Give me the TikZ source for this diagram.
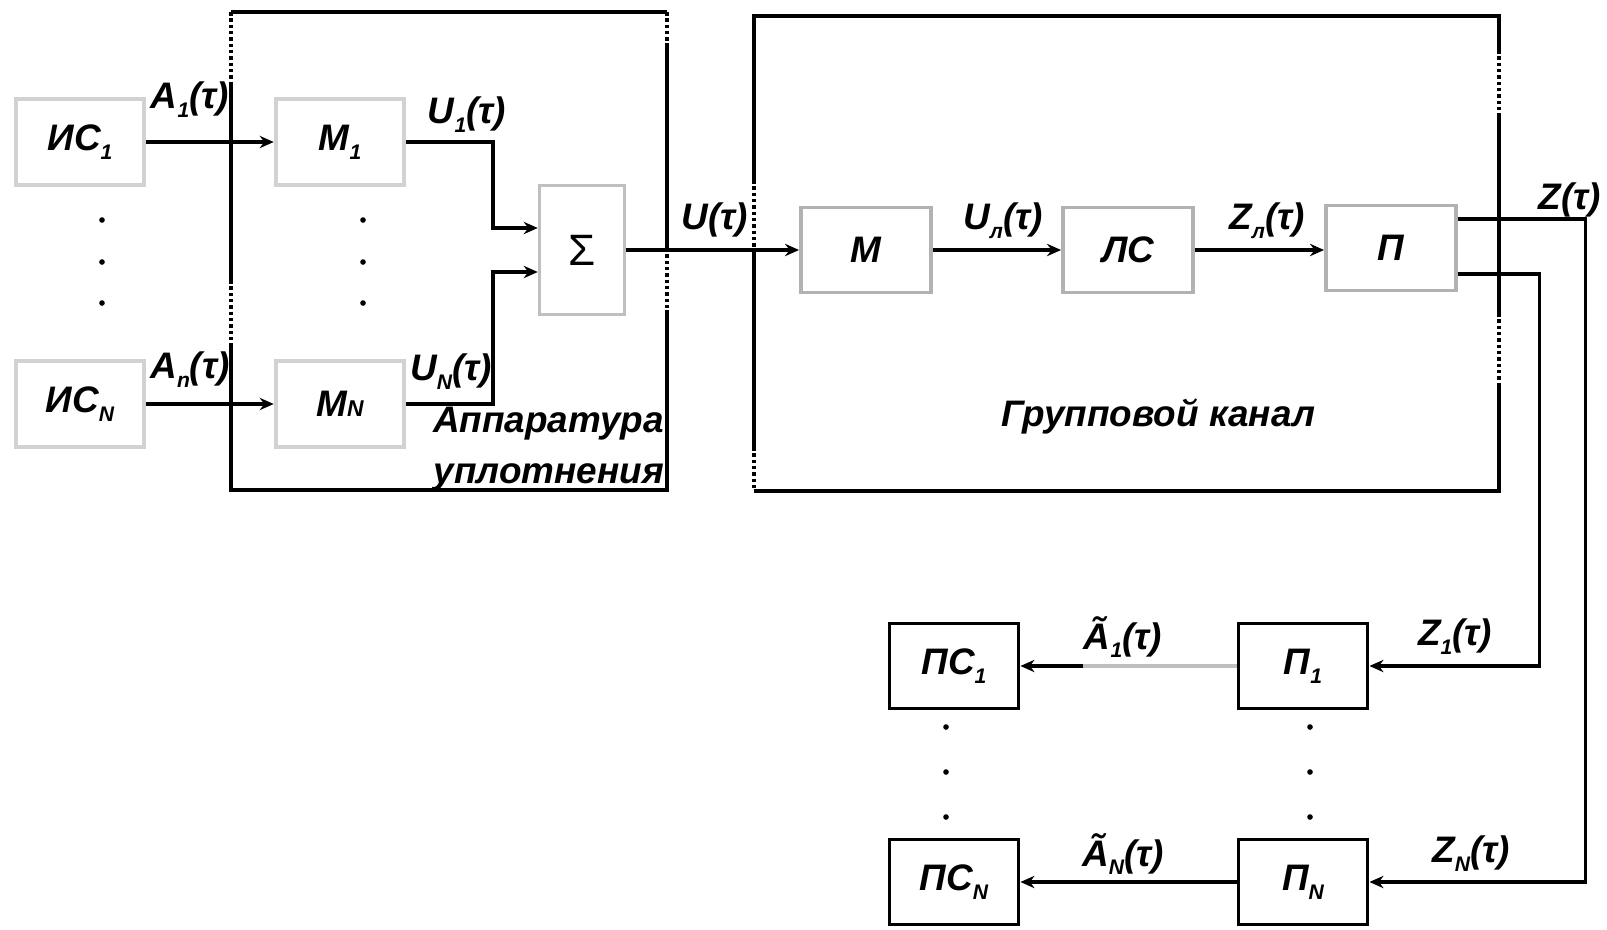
\documentclass[tikz,border=0pt]{standalone}
\usepackage{fontspec}
\setmainfont{Liberation Sans}
\usetikzlibrary{arrows.meta, positioning}

% small lowered index for labels
\newcommand{\lsub}[1]{\raisebox{-0.45ex}{\fontsize{12}{12}\selectfont #1}}

\begin{document}
\begin{tikzpicture}[x=0.02cm, y=-0.02cm, >={Stealth[length=8pt,width=7pt]},
      every node/.style={font=\fontsize{21}{25}\selectfont\bfseries\itshape, inner sep=1pt},
      srcbox/.style={draw=gray!35, line width=2.6pt, minimum width=2.56cm,
                     minimum height=1.72cm, inner sep=0pt},
      chbox/.style={draw=gray!60, line width=2.2pt, minimum width=2.6cm,
                    minimum height=1.7cm, inner sep=0pt,
                    append after command={[draw=gray!85, line width=3pt]
                        (\tikzlastnode.south west) -- (\tikzlastnode.south east)}},
      rxbox/.style={draw=black, line width=2.2pt, minimum width=2.58cm,
                    minimum height=1.7cm, inner sep=0pt},
      conn/.style={line width=2pt, ->},
      frm/.style={line width=2.2pt},
      frmdot/.style={line width=2.2pt, dash pattern=on 2pt off 1.6pt}]

    \useasboundingbox (0,0) rectangle (1607,930);

    % Sources and modulators
    \node[srcbox] (is1) at (80, 142)  {ИС\lsub{1}};
    \node[srcbox] (isN) at (80, 404)  {ИС\lsub{N}};
    \node[srcbox] (m1)  at (340, 142) {M\lsub{1}};
    \node[srcbox] (mN)  at (340, 404) {M{\fontsize{13}{13}\selectfont N}};
    \node[draw=gray!50, line width=2pt, minimum width=1.7cm, minimum height=2.58cm,
          font=\fontsize{25}{25}\selectfont] (sum) at (582, 250) {Σ};

    % Group channel
    \node[chbox] (mch) at (866, 250)  {M};
    \node[chbox] (ls)  at (1128, 250) {ЛС};
    \node[chbox] (pp)  at (1391, 248) {П};

    % Receivers
    \node[rxbox] (p1)  at (1303, 666) {П\lsub{1}};
    \node[rxbox] (pN)  at (1303, 882) {П\lsub{N}};
    \node[rxbox] (ps1) at (954, 666)  {ПС\lsub{1}};
    \node[rxbox] (psN) at (954, 882)  {ПС\lsub{N}};

    % Dots between rows
    \foreach \y in {220, 262, 303} {
        \fill (102, \y) circle (1.6pt);
        \fill (363, \y) circle (1.6pt);
    }
    \foreach \y in {727, 772, 817} {
        \fill (946, \y) circle (1.6pt);
        \fill (1310, \y) circle (1.6pt);
    }

    % Frame of the multiplexing equipment
    \draw[frm] (231,12) -- (667,12) (231,85) -- (231,280) (231,343) |- (667,490) -- (667,310)
               (667,248) -- (667,43);
    \draw[frmdot] (231,12) -- (231,85) (231,280) -- (231,343) (667,12) -- (667,43)
                  (667,248) -- (667,310);
    \node[anchor=east, align=right, font=\fontsize{21}{29}\selectfont\bfseries\itshape]
        (app) at (666, 449) {Аппаратура\\уплотнения};

    % Frame of the group channel
    \draw[frm] (754,180) |- (1499,16) -- (1499,50) (1499,115) -- (1499,313)
               (1499,383) |- (754,491) (754,447) -- (754,248);
    \draw[frmdot] (754,180) -- (754,248) (754,447) -- (754,491) (1499,50) -- (1499,115)
                  (1499,313) -- (1499,383);
    \node (grp) at (1158, 417) {Групповой канал};

    % Connectors
    \draw[conn] (is1) -- (m1);
    \draw[conn] (isN) -- (mN);
    \draw[conn] (m1.east) -| ([xshift=-0.9cm, yshift=0.44cm]sum.west) -- ([yshift=0.44cm]sum.west);
    \draw[conn] (mN.east) -| ([xshift=-0.9cm, yshift=-0.44cm]sum.west) -- ([yshift=-0.44cm]sum.west);
    \draw[conn] (sum) -- (mch);
    \draw[conn] (mch) -- (ls);
    \draw[conn] (ls) -- (pp.west |- ls);
    \draw[conn] ([yshift=0.58cm]pp.east) -| ([xshift=4.32cm]pN.east) -- (pN.east);
    \draw[conn] ([yshift=-0.52cm]pp.east) -| ([xshift=3.4cm]p1.east) -- (p1.east);
    \draw[conn] (p1) -- (ps1);
    \draw[gray!50, line width=2.6pt] (p1.west) -- ++(-154,0);
    \draw[conn] (pN) -- (psN);

    % Signal labels
    \node (la1)  at (190, 100)  {A\lsub{1}(τ)};
    \node (laN)  at (190, 370)  {A\lsub{n}(τ)};
    \node (lu1)  at (467, 115)  {U\lsub{1}(τ)};
    \node (luN)  at (451, 372)  {U\lsub{N}(τ)};
    \node (lu)   at (715, 220)  {U(τ)};
    \node (lul)  at (1003, 221) {U\lsub{л}(τ)};
    \node (lzl)  at (1267, 221) {Z\lsub{л}(τ)};
    \node (lz)   at (1570, 200) {Z(τ)};
    \node (lz1)  at (1455, 637) {Z\lsub{1}(τ)};
    \node (lzN)  at (1471, 854) {Z\lsub{N}(τ)};
    \node (lat1) at (1123, 637) {Ã\lsub{1}(τ)};
    \node (latN) at (1123, 854) {Ã\lsub{N}(τ)};

\end{tikzpicture}
\end{document}
